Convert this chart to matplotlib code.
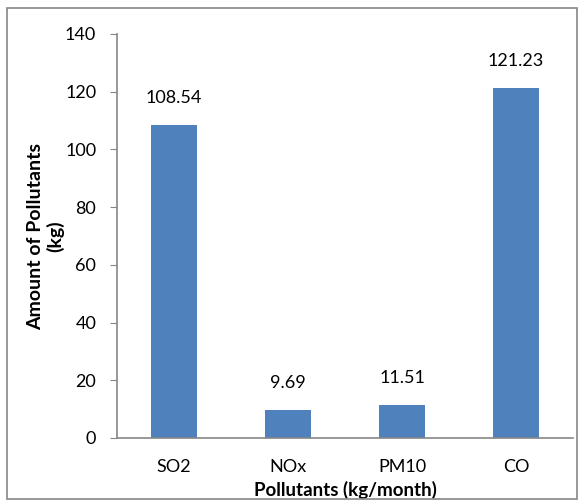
import matplotlib
matplotlib.use("Agg")
import matplotlib.pyplot as plt
from matplotlib.patches import Rectangle

categories = ["SO2", "NOx", "PM10", "CO"]
values = [108.54, 9.69, 11.51, 121.23]
yticks = [0, 20, 40, 60, 80, 100, 120, 140]

plt.rcParams['font.family'] = ['Lato', 'DejaVu Sans']

W, H = 584, 503
fig = plt.figure(figsize=(W/100, H/100), dpi=100)
ax = fig.add_axes([117/W, 1-438/H, (573-117)/W, (438-34)/H])

x = range(len(categories))
bars = ax.bar(x, values, width=0.4, color="#4F81BD")
for xi, v in zip(x, values):
    ax.text(xi, v + 6.5, f"{v:.2f}", ha="center", va="bottom", fontsize=13)

ax.set_xlim(-0.5, len(categories) - 0.5)
ax.set_ylim(0, 140)
ax.set_yticks(yticks)
ax.set_xticks(list(x))
ax.set_xticklabels(categories, fontsize=13)
ax.tick_params(axis='y', labelsize=13, length=5, color="#868686", pad=10)
ax.tick_params(axis='x', length=0, pad=15)
for s in ["top", "right"]:
    ax.spines[s].set_visible(False)
for s in ["left", "bottom"]:
    ax.spines[s].set_color("#868686")
    ax.spines[s].set_linewidth(1.2)

ax.set_xlabel("Pollutants (kg/month)", fontsize=13.5, fontweight="bold")
ax.xaxis.set_label_coords(0.5, -(481 - 438) / 404)
ax.set_ylabel("Amount of Pollutants\n(kg)", fontsize=14, fontweight="bold", linespacing=1.15)
ax.yaxis.set_label_coords((64 - 117) / 456, 0.5)

fig.patches.append(Rectangle((7/W, 4/H), (577-7)/W, 491/H, transform=fig.transFigure,
                             fill=False, edgecolor="#868686", linewidth=1.2))

fig.savefig("out.png", dpi=100)
